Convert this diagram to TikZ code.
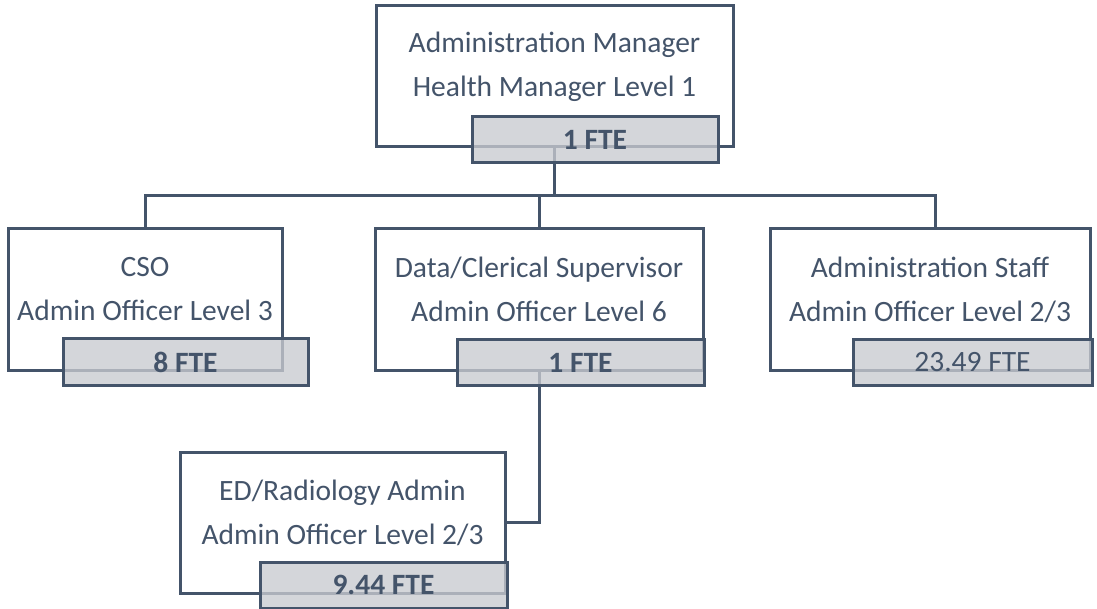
\documentclass[tikz,border=0pt]{standalone}
\usepackage{fontspec}
\setmainfont{Carlito}
\usetikzlibrary{calc}
\definecolor{ink}{HTML}{44546A}
\definecolor{ftegray}{HTML}{C8CBD0}
\tikzset{
  box/.style={draw=ink, line width=3pt, fill=white, rectangle, inner sep=0pt},
  ftebox/.style={draw=ink, line width=3pt, fill=ftegray, fill opacity=0.78, text opacity=1, rectangle, inner sep=0pt, minimum height=46pt, text=ink, font=\fontsize{29.5}{34}\selectfont\bfseries},
  lbl/.style={text=ink, align=center, inner sep=0pt, font=\fontsize{29.5}{44}\selectfont},
  conn/.style={draw=ink, line width=3pt}
}
\begin{document}
\begin{tikzpicture}[x=1pt,y=-1pt]
\useasboundingbox (0,0) rectangle (1097,609);
% main boxes
\node[box, minimum width=357pt, minimum height=141pt] (top) at (554.5,76.5) {};
\node[box, minimum width=274pt, minimum height=141pt] (cso) at (145,299.5) {};
\node[box, minimum width=328pt, minimum height=141pt] (mid) at (539,299.5) {};
\node[box, minimum width=320pt, minimum height=141pt] (adm) at (930,299.5) {};
\node[box, minimum width=325pt, minimum height=141pt] (ed) at (342.5,522.5) {};
% connectors
\coordinate (bus) at (0,196);
\coordinate (admtop) at ($(adm.north)+(5,0)$);
\draw[conn] (top.south) -- (top.south |- bus);
\draw[conn] (cso.north) |- (admtop |- bus) -- (admtop);
\draw[conn] (mid.north) -- (mid.north |- bus);
\draw[conn] (mid.south) |- (ed.east);
% labels
\node[lbl] (toplbl) at ($(top.north)+(0,62)$) {Administration Manager\\Health Manager Level 1};
\node[lbl] (csolbl) at ($(cso.north)+(0,62)$) {CSO\\Admin Officer Level 3};
\node[lbl] (midlbl) at ($(mid.north)+(0,62)$) {Data/Clerical Supervisor\\Admin Officer Level 6};
\node[lbl] (admlbl) at ($(adm.north)+(0,62)$) {Administration Staff\\Admin Officer Level 2/3};
\node[lbl] (edlbl) at ($(ed.north)+(0,62)$) {ED/Radiology Admin\\Admin Officer Level 2/3};
% FTE boxes
\node[ftebox, minimum width=246pt] (topF) at (595,139.5) {1 FTE};
\node[ftebox, minimum width=245pt] (csoF) at (185.5,362) {8 FTE};
\node[ftebox, minimum width=247pt] (midF) at (580.5,362.5) {1 FTE};
\node[ftebox, minimum width=239pt, font=\fontsize{29.5}{34}\selectfont] (admF) at (972.5,362.5) {23.49 FTE};
\node[ftebox, minimum width=247pt] (edF) at (383.5,585) {9.44 FTE};
\end{tikzpicture}
\end{document}
